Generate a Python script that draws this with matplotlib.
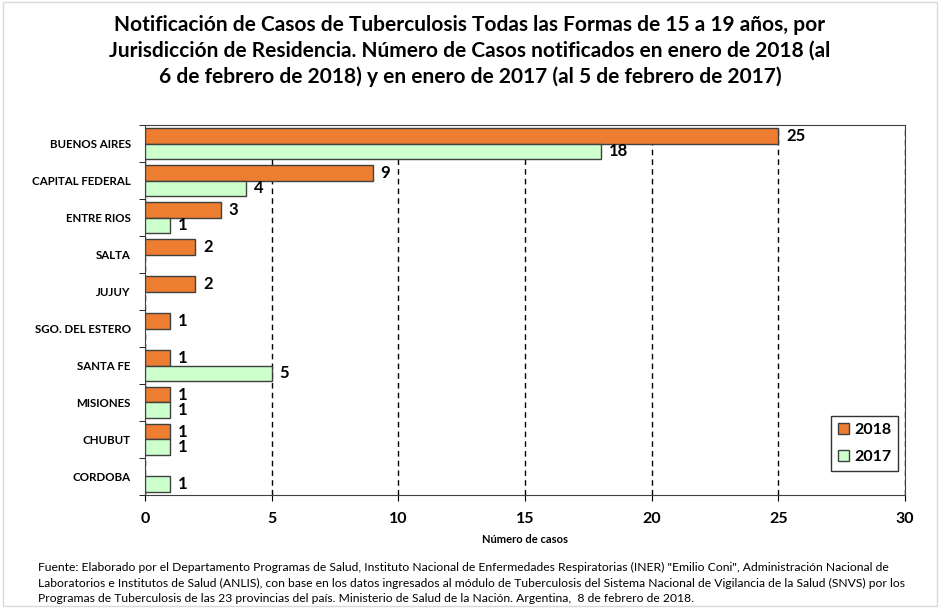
#!/usr/bin/env python3
"""TB notifications 15-19 years by jurisdiction, Jan 2018 vs Jan 2017."""
import matplotlib
matplotlib.use("Agg")
import matplotlib.pyplot as plt
import numpy as np

plt.rcParams["font.family"] = ["Lato", "DejaVu Sans"]

jurisdicciones = ["BUENOS AIRES", "CAPITAL FEDERAL", "ENTRE RIOS", "SALTA", "JUJUY",
                  "SGO. DEL ESTERO", "SANTA FE", "MISIONES", "CHUBUT", "CORDOBA"]
casos_2018 = [25, 9, 3, 2, 2, 1, 1, 1, 1, 0]
casos_2017 = [18, 4, 1, 0, 0, 0, 5, 1, 1, 1]
x_ticks = [0, 5, 10, 15, 20, 25, 30]

title = ("Notificación de Casos de Tuberculosis Todas las Formas de 15 a 19 años, por\n"
         "Jurisdicción de Residencia. Número de Casos notificados en enero de 2018 (al\n"
         "6 de febrero de 2018) y en enero de 2017 (al 5 de febrero de 2017)")
footer = ("Fuente: Elaborado por el Departamento Programas de Salud, Instituto Nacional de Enfermedades Respiratorias (INER) \"Emilio Coni\", Administración Nacional de\n"
          "Laboratorios e Institutos de Salud (ANLIS), con base en los datos ingresados al módulo de Tuberculosis del Sistema Nacional de Vigilancia de la Salud (SNVS) por los\n"
          "Programas de Tuberculosis de las 23 provincias del país. Ministerio de Salud de la Nación. Argentina,  8 de febrero de 2018.")

fig = plt.figure(figsize=(9.4, 6.08), dpi=100)
ax = fig.add_axes([0.154, 0.186, 0.809, 0.608])

y = np.arange(len(jurisdicciones))
h = 0.42
b18 = ax.barh(y - h / 2, casos_2018, h, color="#ED7D31", edgecolor="#404040",
              linewidth=1, label="2018", zorder=3)
b17 = ax.barh(y + h / 2, casos_2017, h, color="#CCFFCC", edgecolor="#404040",
              linewidth=1, label="2017", zorder=3)

for bars, vals in ((b18, casos_2018), (b17, casos_2017)):
    for bar, v in zip(bars, vals):
        if v == 0:
            bar.set_visible(False)
            continue
        ax.text(v + 0.3, bar.get_y() + bar.get_height() / 2, str(v),
                va="center", ha="left", fontsize=12, fontweight="bold")

ax.set_ylim(len(jurisdicciones) - 0.5, -0.5)
ax.set_xlim(0, 30)
ax.set_xticks(x_ticks)
ax.set_xticklabels([str(t) for t in x_ticks], fontsize=11.5, fontweight="bold")
ax.set_yticks(y)
ax.set_yticklabels(jurisdicciones, fontsize=8.3, fontweight="bold")
ax.tick_params(axis="y", length=0, pad=10)
ax.set_yticks(np.arange(len(jurisdicciones) + 1) - 0.5, minor=True)
ax.tick_params(axis="y", which="minor", length=4, direction="out")
ax.tick_params(axis="x", length=4, direction="out", pad=8)
ax.set_xlabel("Número de casos", fontsize=8, fontweight="bold", labelpad=6)
ax.grid(axis="x", color="black", linestyle=(0, (4, 3)), linewidth=1, zorder=0)
for s in ax.spines.values():
    s.set_color("#404040")

leg = ax.legend(loc="lower right", bbox_to_anchor=(0.995, 0.055),
                prop={"weight": "bold", "size": 11.5}, frameon=True, fancybox=False,
                handlelength=0.7, handleheight=0.7, handletextpad=0.3,
                labelspacing=0.8, borderpad=0.45, borderaxespad=0.2)
leg.get_frame().set_edgecolor("black")
leg.get_frame().set_linewidth(1)

fig.text(0.5, 0.975, title, ha="center", va="top", fontsize=15,
         fontweight="bold", linespacing=1.35)
fig.text(0.04, 0.006, footer, ha="left", va="bottom", fontsize=8.75, linespacing=1.5)

fig.patches.append(plt.Rectangle((0.003, 0.003), 0.994, 0.994, transform=fig.transFigure,
                                 fill=False, edgecolor="#d9d9d9", linewidth=1))

fig.savefig("out.png", dpi=100)
plt.close()
